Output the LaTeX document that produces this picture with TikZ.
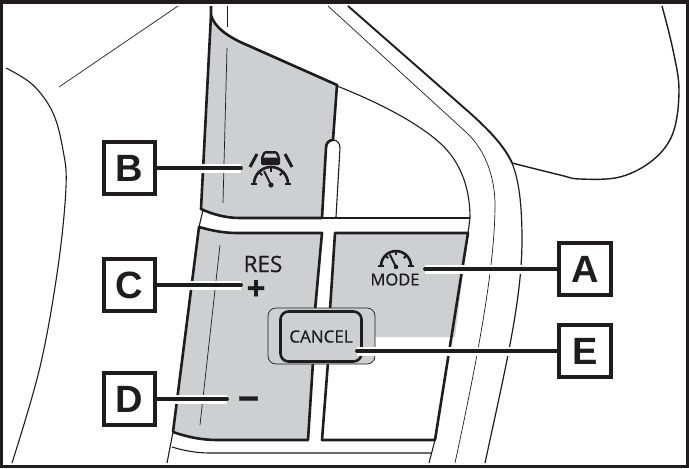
\documentclass[tikz,border=0pt]{standalone}
\usepackage{fontspec}
\setmainfont{Liberation Sans}
\newfontfamily\panelfont[FakeBold=0.5]{Open Sans}
\usetikzlibrary{backgrounds}
\definecolor{panelgray}{RGB}{205,207,209}
\definecolor{inkblack}{RGB}{30,28,28}
\tikzset{
	letterbox/.style={draw=inkblack,line width=3.6pt,fill=white,minimum size=51.5pt,inner sep=0pt,outer sep=0pt,text=inkblack,font=\fontsize{38}{38}\selectfont\bfseries},
	leader/.style={draw=inkblack,line width=3.8pt,line cap=round,preaction={draw=white,line width=9pt}},
	thick line/.style={draw=inkblack,line width=2.6pt},
	thin line/.style={draw=inkblack,line width=1.1pt},
	hair line/.style={draw=inkblack,line width=0.7pt},
	panel/.style={thick line,fill=panelgray,line join=round},
	panel text/.style={inner sep=0pt,text=inkblack,font=\panelfont},
	gauge/.pic={
		\draw [inkblack,line width=2.6pt] (-17,0) arc (180:360:17);
		\draw [inkblack,line width=2.4pt] (-20,0) -- (-14,0);
		\draw [inkblack,line width=2.4pt] (20,0) -- (14,0);
		\foreach \a in {-135,-90,-45}
			\draw [inkblack,line width=2pt] (\a:17) -- (\a:12.5);
		\draw [inkblack,line width=2pt] (0,1) -- (-7,-13);
		\fill [inkblack] (0,1) circle (2.6);
	}
}
\begin{document}
\begin{tikzpicture}[x=1pt,y=-1pt]
	\useasboundingbox (0,0) rectangle (689,469);
	\node [letterbox] (boxB) at (129.5,168) {B};
	\node [letterbox] (boxC) at (129.5,285) {C};
	\node [letterbox] (boxD) at (129.5,399) {D};
	\node [letterbox] (boxA) at (585,269) {A};
	\node [letterbox] (boxE) at (585,351) {E};
	\coordinate (tipB) at (241,168);
	\coordinate (tipC) at (241,285);
	\coordinate (tipD) at (227,399);
	\coordinate (tipA) at (425,269);
	\coordinate (tipE) at (357,351);
	\begin{scope}[on background layer]
		\draw [panel] (211,6) -- (211,15) .. controls (214,27) and (228,37) .. (247,45) -- (337,85) -- (333,140) .. controls (329,140) and (326,143) .. (326,148) -- (322,218) -- (240,218) .. controls (225,218) and (212,214) .. (201,209) -- (211,15);
		\fill [panelgray] (199,227) .. controls (210,230) and (222,233) .. (237,233) -- (322,233) -- (308,440) -- (217,440) .. controls (202,440) and (187,437) .. (173,432) -- cycle;
		\draw [panel,fill=none] (173,432) -- (199,227) .. controls (210,230) and (222,233) .. (237,233) -- (322,233) -- (315,310);
		\draw [panel,fill=none] (313,362) -- (308,440) -- (217,440) .. controls (202,440) and (187,437) .. (173,432);
		\fill [panelgray] (335,233) -- (468,233) -- (455,337) -- (330,337) -- cycle;
		\draw [thick line,line join=round] (330,310) -- (335,233) -- (468,233) -- (435,440) -- (322,440) -- (328,362);
		\draw [thin line] (333,140) .. controls (337,140) and (340,143) .. (340,148) -- (336,217);
		\draw [thin line] (322,218) -- (470,218);
		\draw [hair line] (227,6) -- (227,27);
		\draw [hair line] (227,48) -- (223,203);
		\draw [hair line] (220,245) -- (200,425);
		\draw [thin line] (203,210) -- (199,227);
		\draw [thin line] (173,432) -- (167,463);
		\draw [thin line] (172,447) .. controls (185,451) and (197,453) .. (210,453) -- (431,453);
		\draw [thin line] (435,440) -- (429,463);
		\draw [hair line] (178,6) -- (59,87);
		\draw [thin line] plot [smooth,tension=0.6] coordinates {(6,68) (33,85) (53,113) (63,150) (66,187) (58,267) (40,367) (12,463)};
		\draw [line width=1.4pt,inkblack] plot [smooth,tension=0.6] coordinates {(662,6) (673,50) (679,90) (673,133) (653,160) (620,177) (580,179) (560,175) (512,163)};
		\draw [line width=1.9pt,inkblack] (348,6) -- (470,113) .. controls (490,131) and (505,147) .. (512,163);
		\draw [line width=1.2pt,inkblack] (512,163) .. controls (519,180) and (522,205) .. (522,240) .. controls (522,300) and (505,370) .. (485,463);
		\draw [hair line] (328,6) -- (467,133) .. controls (487,152) and (495,180) .. (495,205) .. controls (495,270) and (475,370) .. (455,463);
		\draw [thin line] (337,86) .. controls (385,105) and (420,125) .. (440,143) .. controls (462,163) and (470,190) .. (470,218) -- (468,233);
		\draw [draw=inkblack,line width=0.7pt,fill=panelgray,rounded corners=8pt] (268,308) rectangle (375,364);
		\node [panel text,draw=inkblack,line width=2.6pt,fill=panelgray,rounded corners=8pt,minimum width=81pt,minimum height=50pt,font=\panelfont\fontsize{17}{17}\selectfont] (cancel) at (321,336.5) {CANCEL};
		\node [panel text,font=\panelfont\fontsize{22.5}{22.5}\selectfont] (res) at (263,264) {RES};
		\node [panel text,font=\panelfont\bfseries\fontsize{33}{33}\selectfont] (plus) at (256,290) {+};
		\node [panel text,anchor=base,font=\panelfont\bfseries\fontsize{38}{38}\selectfont] (minus) at (248.5,412) {\char"2212};
		\node [panel text,font=\panelfont\fontsize{16.5}{16.5}\selectfont] (mode) at (395,279.5) {MODE};
		\pic at (271,184) {gauge};
		\pic [scale=0.88] at (396,266) {gauge};
		\draw [inkblack,line width=3pt] (257,154) -- (250,167);
		\draw [inkblack,line width=3pt] (285,154) -- (292,167);
		\fill [inkblack,rounded corners=1.5pt] (264,151) -- (277,151) -- (280,157) -- (280,165) -- (261,165) -- (261,157) -- cycle;
		\fill [panelgray] (265.5,153.5) -- (275.5,153.5) -- (277.5,157.5) -- (263.5,157.5) -- cycle;
		\draw [leader] (boxB) -- (tipB);
		\draw [leader] (boxC) -- (tipC);
		\draw [leader] (boxD) -- (tipD);
		\draw [leader] (boxA) -- (tipA);
		\draw [leader] (boxE) -- (tipE);
	\end{scope}
	\draw [inkblack,line width=3.6pt] (1.5,2) rectangle (687.5,466.5);
\end{tikzpicture}
\end{document}
